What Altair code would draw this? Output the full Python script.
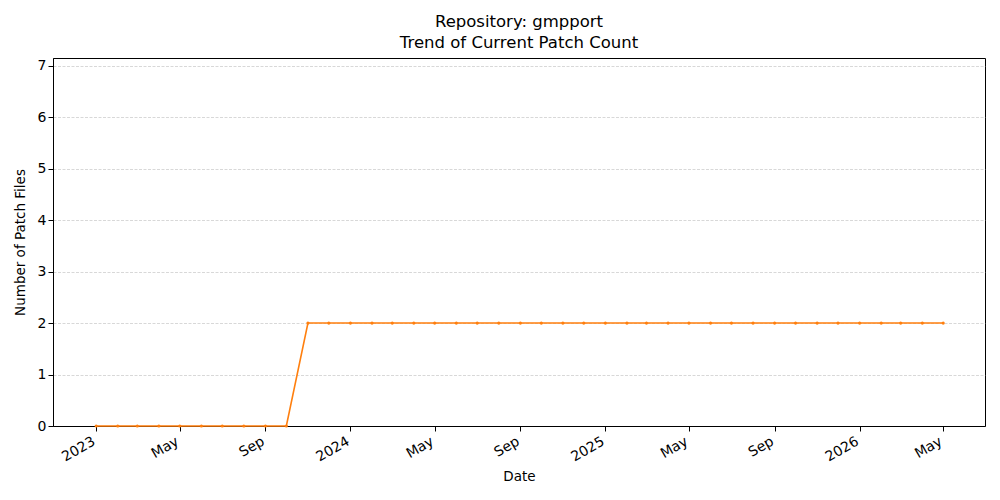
import altair as alt
import pandas as pd

months = [
    "2023-01-01", "2023-02-01", "2023-03-01", "2023-04-01", "2023-05-01", "2023-06-01",
    "2023-07-01", "2023-08-01", "2023-09-01", "2023-10-01", "2023-11-01", "2023-12-01",
    "2024-01-01", "2024-02-01", "2024-03-01", "2024-04-01", "2024-05-01", "2024-06-01",
    "2024-07-01", "2024-08-01", "2024-09-01", "2024-10-01", "2024-11-01", "2024-12-01",
    "2025-01-01", "2025-02-01", "2025-03-01", "2025-04-01", "2025-05-01", "2025-06-01",
    "2025-07-01", "2025-08-01", "2025-09-01", "2025-10-01", "2025-11-01", "2025-12-01",
    "2026-01-01", "2026-02-01", "2026-03-01", "2026-04-01", "2026-05-01",
]
patch_counts = [
    0, 0, 0, 0, 0, 0, 0, 0, 0, 0, 2, 2,
    2, 2, 2, 2, 2, 2, 2, 2, 2, 2, 2, 2,
    2, 2, 2, 2, 2, 2, 2, 2, 2, 2, 2, 2,
    2, 2, 2, 2, 2,
]
tick_dates = [
    (2023, 1), (2023, 5), (2023, 9), (2024, 1), (2024, 5), (2024, 9),
    (2025, 1), (2025, 5), (2025, 9), (2026, 1), (2026, 5),
]

df = pd.DataFrame({"date": months, "count": patch_counts})

font = "DejaVu Sans"

x_axis = alt.Axis(
    title="Date",
    values=[alt.DateTime(year=y, month=m, date=1, utc=True) for y, m in tick_dates],
    labelExpr="utcmonth(datum.value) == 0 ? utcFormat(datum.value, '%Y') : utcFormat(datum.value, '%b')",
    labelAngle=-30,
    labelAlign="right",
    labelBaseline="top",
    labelFontSize=14,
    labelColor="black",
    labelPadding=3,
    labelOffset=-6,
    titleFontSize=13.5,
    titleFontWeight="normal",
    titleColor="black",
    titlePadding=6,
    tickColor="black",
    tickSize=5,
    domainColor="black",
    grid=False,
    labelFont=font,
    titleFont=font,
)

y_axis = alt.Axis(
    title="Number of Patch Files",
    values=[0, 1, 2, 3, 4, 5, 6, 7],
    labelFontSize=14,
    labelColor="black",
    titleFontSize=13.5,
    titleFontWeight="normal",
    titleColor="black",
    titlePadding=10,
    tickColor="black",
    tickSize=5,
    domainColor="black",
    grid=True,
    gridDash=[3, 1.5],
    gridColor="#b0b0b0",
    gridWidth=0.5,
    labelFont=font,
    titleFont=font,
)

base = alt.Chart(df).encode(
    x=alt.X(
        "date:T",
        axis=x_axis,
        scale=alt.Scale(
            type="utc",
            domain=[
                alt.DateTime(year=2022, month=10, date=31, utc=True),
                alt.DateTime(year=2026, month=6, date=30, utc=True),
            ],
            nice=False,
        ),
    ),
    y=alt.Y("count:Q", axis=y_axis, scale=alt.Scale(domain=[0, 7.15], nice=False, zero=True)),
)

line = base.mark_line(color="#ff7f0e", strokeWidth=1.6)
points = base.mark_point(color="#ff7f0e", filled=True, size=10, opacity=1)

chart = (
    alt.layer(line, points)
    .properties(
        width=932,
        height=368,
        autosize=alt.AutoSizeParams(type="none"),
        padding={"left": 45, "top": 50, "right": 7, "bottom": 66},
        title=alt.TitleParams(
            text=["Repository: gmpport", "Trend of Current Patch Count"],
            fontSize=16.5,
            fontWeight="normal",
            font=font,
            color="black",
            anchor="middle",
            offset=7,
            lineHeight=21,
        ),
    )
    .configure_view(stroke="black", strokeWidth=1)
)

chart.save("out.html", embed_options={"renderer": "svg", "actions": False})
